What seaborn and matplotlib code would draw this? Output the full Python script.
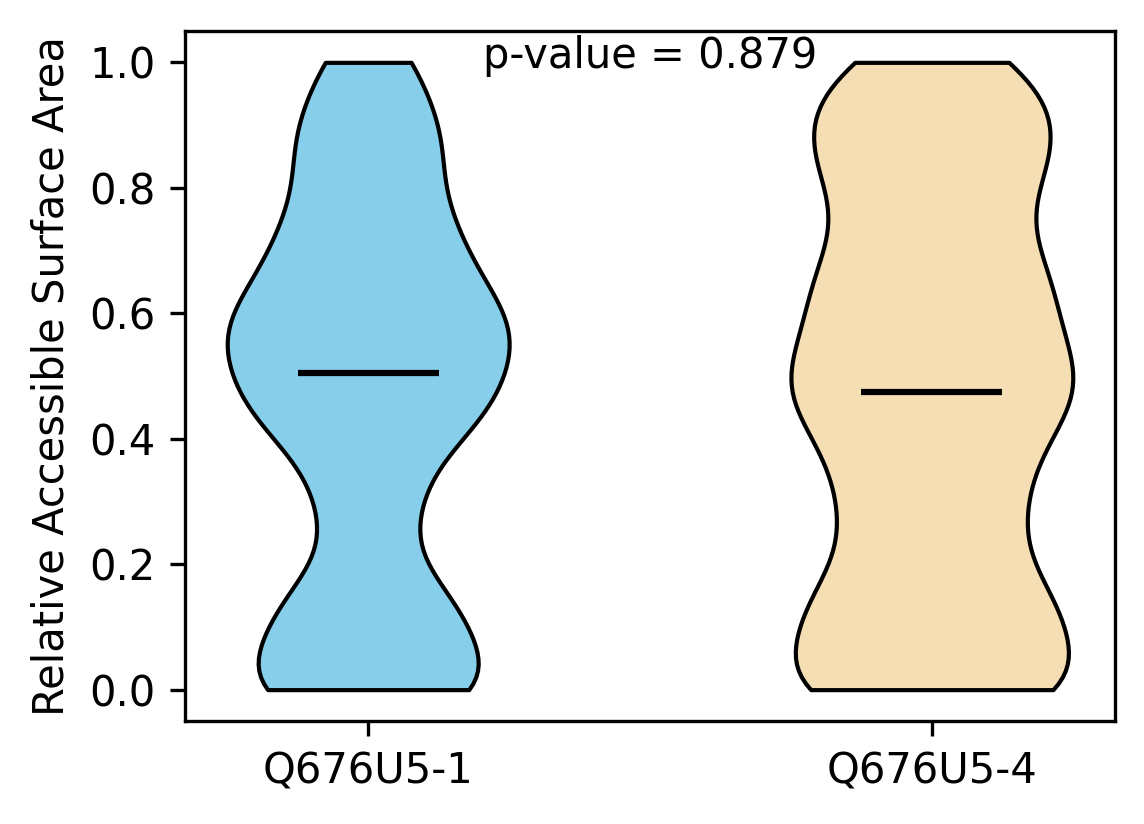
import numpy as np
import pandas as pd
import matplotlib
matplotlib.use("Agg")
import matplotlib.pyplot as plt
import seaborn as sns

# two isoforms, RSA values binned at 0.05 steps (counts)
groups = ["Q676U5-1", "Q676U5-4"]
colors = ["skyblue", "wheat"]

levels_1 = [0.0, 0.05, 0.10, 0.15, 0.20, 0.25, 0.30, 0.35, 0.40, 0.45, 0.505,
            0.55, 0.60, 0.65, 0.70, 0.75, 0.80, 0.85, 0.90, 0.95, 1.0]
counts_1 = [25, 4, 12, 11, 1, 4, 7, 3, 9, 16, 11, 15, 16, 9, 10, 9, 5, 8, 9, 3, 8]

levels_2 = [0.0, 0.05, 0.10, 0.15, 0.20, 0.25, 0.30, 0.35, 0.40, 0.45, 0.475, 0.50,
            0.55, 0.60, 0.65, 0.70, 0.75, 0.80, 0.85, 0.90, 0.95, 1.0]
counts_2 = [25, 2, 14, 11, 4, 8, 7, 7, 9, 8, 6, 10, 10, 8, 12, 7, 6, 8, 10, 10, 9, 9]

p_value = 0.879

df = pd.DataFrame({
    "protein": np.repeat(groups, [sum(counts_1), sum(counts_2)]),
    "rsa": np.concatenate([np.repeat(levels_1, counts_1), np.repeat(levels_2, counts_2)]),
})

fig, ax = plt.subplots(figsize=(1144 / 300, 824 / 300), dpi=300)

sns.violinplot(data=df, x="protein", y="rsa", hue="protein", order=groups, hue_order=groups,
               palette=colors, saturation=1, cut=0, inner=None, width=0.5,
               density_norm="width", bw_method=0.225, linecolor="black", linewidth=1,
               legend=False, ax=ax)

# median bars like matplotlib's showmedians
med = df.groupby("protein")["rsa"].median()
pos = np.arange(len(groups))
ax.hlines([med[g] for g in groups], pos - 0.125, pos + 0.125, colors="black", lw=1.5)

ax.set_xlim(-0.325, 1.325)
ax.set_ylim(-0.05, 1.05)
ax.set_yticks([0.0, 0.2, 0.4, 0.6, 0.8, 1.0])
ax.set_xlabel("")
ax.set_ylabel("Relative Accessible Surface Area")
ax.text(0.5, 0.946, f"p-value = {p_value}", transform=ax.transAxes, ha="center", va="baseline")

fig.subplots_adjust(left=0.1617, right=0.9747, top=0.9624, bottom=0.125)
fig.savefig("out.png", dpi=300)
